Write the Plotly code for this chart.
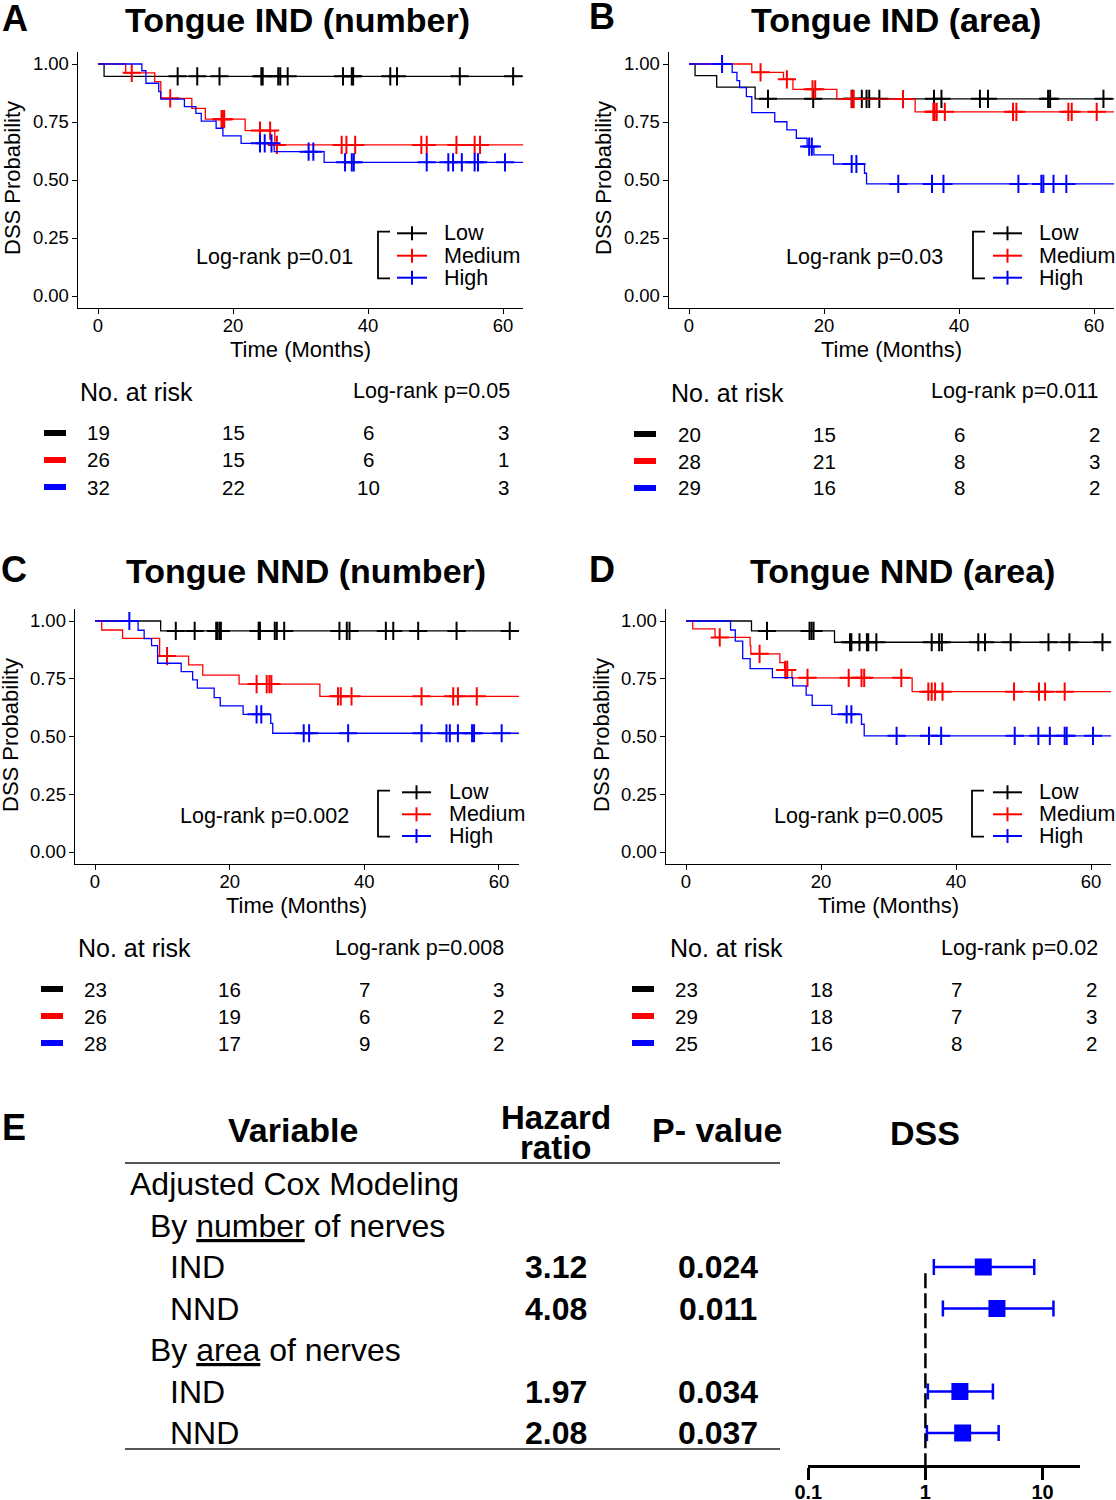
import plotly.graph_objects as go

# ======================= DATA =======================
groups = ["Low", "Medium", "High"]
risk_times = [0, 20, 40, 60]
FOLLOW_UP_END = 63.0

# ---- Panel A : Tongue IND (number)
A_low_t = [0.9]
A_low_s = [0.947]
A_low_c = [11.8, 14.7, 18.0, 24.2, 24.4, 26.7, 27.0, 28.1, 36.3, 37.6, 37.8, 43.3, 44.3, 53.6, 61.5]
A_med_t = [4.1, 8.4, 9.3, 13.9, 15.9, 21.8, 26.2]
A_med_s = [0.962, 0.924, 0.852, 0.809, 0.762, 0.713, 0.651]
A_med_c = [5.0, 10.7, 18.3, 18.5, 18.7, 24.0, 25.5, 26.5, 36.1, 36.8, 38.1, 47.9, 48.7, 53.1, 55.8, 56.6]
A_high_t = [6.5, 7.1, 9.0, 9.3, 12.8, 14.5, 15.3, 17.5, 18.5, 21.2, 26.1, 33.5]
A_high_s = [0.971, 0.917, 0.881, 0.849, 0.816, 0.787, 0.754, 0.723, 0.690, 0.658, 0.622, 0.576]
A_high_c = [24.0, 24.7, 25.7, 31.2, 31.9, 36.6, 37.6, 37.9, 48.7, 51.9, 52.6, 53.9, 55.8, 56.3, 60.3]
A_risk = {"Low": [19, 15, 6, 3], "Medium": [26, 15, 6, 1], "High": [32, 22, 10, 3]}
A_p_plot, A_p_table = "0.01", "0.05"

# ---- Panel B : Tongue IND (area)
B_low_t = [0.9, 4.1, 9.8]
B_low_s = [0.95, 0.90, 0.85]
B_low_c = [11.7, 18.4, 24.1, 24.3, 25.6, 26.3, 26.7, 28.2, 36.3, 37.4, 43.1, 44.3, 53.2, 53.5, 61.4]
B_med_t = [9.3, 14.0, 15.4, 21.9, 33.5]
B_med_s = [0.964, 0.934, 0.891, 0.849, 0.794]
B_med_c = [10.6, 14.5, 18.3, 18.7, 24.1, 24.4, 31.7, 36.2, 36.4, 36.7, 37.9, 48.0, 48.5, 56.2, 56.7, 60.4]
B_high_t = [6.4, 7.1, 7.5, 8.5, 9.3, 12.7, 14.5, 15.9, 17.5, 18.5, 21.4, 26.0, 26.3]
B_high_s = [0.964, 0.928, 0.898, 0.859, 0.790, 0.751, 0.716, 0.680, 0.644, 0.608, 0.569, 0.529, 0.483]
B_high_c = [4.9, 17.8, 18.2, 24.1, 24.8, 31.0, 36.0, 37.7, 48.8, 52.2, 52.5, 54.0, 55.9]
B_risk = {"Low": [20, 15, 6, 2], "Medium": [28, 21, 8, 3], "High": [29, 16, 8, 2]}
B_p_plot, B_p_table = "0.03", "0.011"

# ---- Panel C : Tongue NND (number)
C_low_t = [9.75]
C_low_s = [0.957]
C_low_c = [12.0, 14.8, 18.0, 18.2, 18.5, 18.7, 24.3, 24.5, 26.7, 27.0, 28.1, 36.3, 37.4, 37.8, 43.2, 44.3, 48.0, 53.7, 61.6]
C_med_t = [1.0, 4.1, 9.6, 13.9, 16.0, 21.4, 33.4]
C_med_s = [0.961, 0.925, 0.848, 0.810, 0.766, 0.727, 0.674]
C_med_c = [10.7, 24.0, 25.5, 25.9, 26.2, 36.1, 36.5, 38.1, 48.5, 53.2, 53.9, 56.7]
C_high_t = [6.4, 7.3, 8.4, 9.3, 12.8, 14.5, 15.2, 17.7, 18.6, 22.0, 26.1, 26.4]
C_high_s = [0.960, 0.924, 0.893, 0.817, 0.781, 0.745, 0.709, 0.668, 0.633, 0.596, 0.557, 0.514]
C_high_c = [5.1, 24.0, 24.7, 31.0, 31.8, 37.6, 48.5, 52.2, 52.7, 53.9, 56.0, 56.3, 60.4]
C_risk = {"Low": [23, 16, 7, 3], "Medium": [26, 19, 6, 2], "High": [28, 17, 9, 2]}
C_p_plot, C_p_table = "0.002", "0.008"

# ---- Panel D : Tongue NND (area)
D_low_t = [9.7, 22.0]
D_low_s = [0.957, 0.908]
D_low_c = [12.0, 18.3, 18.6, 18.9, 24.3, 24.5, 25.7, 26.8, 27.0, 28.2, 36.4, 37.5, 37.9, 43.3, 44.3, 48.1, 53.7, 56.8, 61.7]
D_med_t = [1.0, 4.3, 9.5, 9.6, 13.9, 14.6, 15.7, 33.5]
D_med_s = [0.966, 0.929, 0.893, 0.858, 0.820, 0.788, 0.754, 0.694]
D_med_c = [5.0, 10.9, 14.7, 15.0, 18.0, 24.1, 26.0, 26.4, 31.9, 35.9, 36.4, 36.9, 38.0, 48.6, 52.3, 53.2, 56.1]
D_high_t = [6.6, 7.3, 8.4, 9.5, 12.8, 15.8, 17.8, 18.7, 21.6, 26.0, 26.4]
D_high_s = [0.961, 0.913, 0.837, 0.794, 0.755, 0.719, 0.679, 0.635, 0.596, 0.553, 0.503]
D_high_c = [23.8, 24.5, 31.2, 36.0, 37.8, 48.7, 52.2, 53.9, 56.1, 56.4, 60.3]
D_risk = {"Low": [23, 18, 7, 2], "Medium": [29, 18, 7, 3], "High": [25, 16, 8, 2]}
D_p_plot, D_p_table = "0.005", "0.02"

# ---- Panel E : adjusted Cox model table / forest plot
table_labels = ["Adjusted Cox Modeling", "By <u>number</u> of nerves", "IND", "NND",
                "By <u>area</u> of nerves", "IND", "NND"]
table_level = [0, 1, 2, 2, 1, 2, 2]
estimate_rows = [2, 3, 5, 6]
hazard_ratio = [3.12, 4.08, 1.97, 2.08]
p_values = ["0.024", "0.011", "0.034", "0.037"]
ci_low = [1.18, 1.41, 1.05, 1.03]
ci_high = [8.5, 12.4, 3.77, 4.22]
forest_ticks = [0.1, 1, 10]

# ======================= STYLE / LAYOUT =======================
W, H = 1116, 1500
def X(px): return px / W
def Y(py): return 1 - py / H

FONT = "Liberation Sans, Arial, sans-serif"
COL = {"Low": "#000000", "Medium": "#FF0000", "High": "#0000FF"}

km = {
    "A": {"Low": (A_low_t, A_low_s, A_low_c), "Medium": (A_med_t, A_med_s, A_med_c), "High": (A_high_t, A_high_s, A_high_c)},
    "B": {"Low": (B_low_t, B_low_s, B_low_c), "Medium": (B_med_t, B_med_s, B_med_c), "High": (B_high_t, B_high_s, B_high_c)},
    "C": {"Low": (C_low_t, C_low_s, C_low_c), "Medium": (C_med_t, C_med_s, C_med_c), "High": (C_high_t, C_high_s, C_high_c)},
    "D": {"Low": (D_low_t, D_low_s, D_low_c), "Medium": (D_med_t, D_med_s, D_med_c), "High": (D_high_t, D_high_s, D_high_c)},
}
risk = {"A": A_risk, "B": B_risk, "C": C_risk, "D": D_risk}
pvals = {"A": (A_p_plot, A_p_table), "B": (B_p_plot, B_p_table),
         "C": (C_p_plot, C_p_table), "D": (D_p_plot, D_p_table)}

panels = [
    dict(key="A", title="Tongue IND (number)", x0=98, ppm=6.75, ytop=64, ybot=296,
         letter=(15, 18), tpos=(297, 20), ytit=(12, 178), lr=(274, 257),
         br=378, rows=[233.3, 255.7, 277.7], seg=(397, 427), txt=442,
         nar=(78, 392), rlr=(512, 391), rrows=[433, 460, 487], bar=44),
    dict(key="B", title="Tongue IND (area)", x0=689, ppm=6.75, ytop=64, ybot=296,
         letter=(602, 17), tpos=(896, 20), ytit=(603, 178), lr=(864, 257),
         br=973, rows=[233.3, 255.7, 277.7], seg=(993, 1022), txt=1037,
         nar=(669, 393), rlr=(1101, 391), rrows=[434, 461, 488], bar=634),
    dict(key="C", title="Tongue NND (number)", x0=95, ppm=6.733, ytop=621, ybot=852,
         letter=(14, 569), tpos=(306, 571), ytit=(10, 735), lr=(264, 816),
         br=378, rows=[792.3, 814.3, 836], seg=(402, 431), txt=447,
         nar=(76, 948), rlr=(506, 948), rrows=[989, 1016, 1043], bar=41),
    dict(key="D", title="Tongue NND (area)", x0=686, ppm=6.75, ytop=621, ybot=852,
         letter=(602, 569), tpos=(903, 571), ytit=(601, 735), lr=(858, 816),
         br=972, rows=[792.3, 814.3, 836], seg=(993, 1022), txt=1037,
         nar=(668, 948), rlr=(1100, 948), rrows=[989, 1016, 1043], bar=632),
]

XR = [-3, 63]
YR = [-0.05, 1.05]

fig = go.Figure()
annotations = []
shapes = []
layout_axes = {}


def ann(text, x, y, size, xanchor="center", yanchor="middle", xref="paper", yref="paper",
        family=FONT, angle=0, color="black"):
    annotations.append(dict(text=text, x=x, y=y, xref=xref, yref=yref, showarrow=False,
                            xanchor=xanchor, yanchor=yanchor, textangle=angle,
                            font=dict(size=size, family=family, color=color)))


def surv_at(t, s, c):
    v = 1.0
    for ti, si in zip(t, s):
        if ti <= c:
            v = si
    return v


for i, p in enumerate(panels):
    n = i + 1
    xa = "x" if n == 1 else f"x{n}"
    ya = "y" if n == 1 else f"y{n}"
    xk = "xaxis" if n == 1 else f"xaxis{n}"
    yk = "yaxis" if n == 1 else f"yaxis{n}"
    ppu = p["ybot"] - p["ytop"]
    xdom = [X(p["x0"] + XR[0] * p["ppm"]), X(p["x0"] + XR[1] * p["ppm"])]
    ydom = [Y(p["ybot"] + 0.05 * ppu), Y(p["ytop"] - 0.05 * ppu)]

    for g in groups:
        t, s, c = km[p["key"]][g]
        xs = [0] + t + [FOLLOW_UP_END]
        ys = [1.0] + s + [s[-1]]
        fig.add_trace(go.Scatter(x=xs, y=ys, mode="lines", xaxis=xa, yaxis=ya,
                                 line=dict(color=COL[g], width=1.3, shape="hv"),
                                 showlegend=False, hoverinfo="skip", name=g))
        fig.add_trace(go.Scatter(x=c, y=[surv_at(t, s, ci) for ci in c], mode="markers",
                                 xaxis=xa, yaxis=ya, showlegend=False, hoverinfo="skip", name=g,
                                 marker=dict(symbol="cross-thin", size=13,
                                             line=dict(width=2, color=COL[g]))))

    axis_common = dict(ticks="outside", ticklen=5, tickwidth=1.3, tickcolor="black",
                       showline=True, linecolor="black", linewidth=1.3, showgrid=False,
                       zeroline=False, tickfont=dict(size=18.5, family=FONT, color="black"),
                       fixedrange=True, automargin=False)
    layout_axes[xk] = dict(domain=xdom, range=XR, tickvals=risk_times, anchor=ya,
                           ticklabelstandoff=-4, **axis_common)
    layout_axes[yk] = dict(domain=ydom, range=YR, tickvals=[0, 0.25, 0.5, 0.75, 1.0],
                           tickformat=".2f", anchor=xa, ticklabelstandoff=-1, **axis_common)

    # titles
    ann("<b>" + p["key"] + "</b>", X(p["letter"][0]), Y(p["letter"][1]), 36)
    ann("<b>" + p["title"] + "</b>", X(p["tpos"][0]), Y(p["tpos"][1]), 34)
    ann("Time (Months)", 30, Y(p["ybot"] + 0.05 * ppu + 42), 22, xref=xa)
    ann("DSS Probability", X(p["ytit"][0]), Y(p["ytit"][1]), 22, angle=-90)
    # log-rank in plot
    ann("Log-rank p=" + pvals[p["key"]][0], X(p["lr"][0]), Y(p["lr"][1]), 21.5)

    # manual legend with bracket
    top, bot = p["rows"][0] - 1.6, p["rows"][2] + 0.6
    shapes.append(dict(type="path", xref="paper", yref="paper",
                       path=f"M {X(p['br'] + 12)},{Y(top)} L {X(p['br'])},{Y(top)} "
                            f"L {X(p['br'])},{Y(bot)} L {X(p['br'] + 12)},{Y(bot)}",
                       line=dict(color="black", width=1.8)))
    for g, ry in zip(groups, p["rows"]):
        s0, s1 = p["seg"]
        mid = (s0 + s1) / 2
        shapes.append(dict(type="line", xref="paper", yref="paper", x0=X(s0), x1=X(s1),
                           y0=Y(ry), y1=Y(ry), line=dict(color=COL[g], width=2)))
        shapes.append(dict(type="line", xref="paper", yref="paper", x0=X(mid), x1=X(mid),
                           y0=Y(ry - 7), y1=Y(ry + 7), line=dict(color=COL[g], width=2)))
        ann(g, X(p["txt"]), Y(ry), 21.5, xanchor="left")

    # risk table
    ann("No. at risk", X(p["nar"][0]), Y(p["nar"][1]), 25, xanchor="left")
    ann("Log-rank p=" + pvals[p["key"]][1], X(p["rlr"][0]), Y(p["rlr"][1]), 21.5, xanchor="right")
    for g, ry in zip(groups, p["rrows"]):
        shapes.append(dict(type="rect", xref="paper", yref="paper", x0=X(p["bar"]),
                           x1=X(p["bar"] + 22), y0=Y(ry + 3), y1=Y(ry - 3),
                           fillcolor=COL[g], line=dict(width=0)))
        for tt, nn in zip(risk_times, risk[p["key"]][g]):
            ann(str(nn), tt, Y(ry), 20.5, xref=xa)

# ======================= PANEL E =======================
ROW0_PY, ROW_STEP = 1184, 41.5
AXIS_PY, TOP_ROW = 1465, -1
bottom_row = (AXIS_PY - ROW0_PY) / ROW_STEP
ydom5 = [Y(AXIS_PY), Y(ROW0_PY + TOP_ROW * ROW_STEP)]
xdom5 = [X(808.3), X(1080)]

fig.add_trace(go.Scatter(
    x=hazard_ratio, y=estimate_rows, mode="markers", xaxis="x5", yaxis="y5",
    showlegend=False, hoverinfo="skip",
    marker=dict(symbol="square", size=17, color="#0000FF"),
    error_x=dict(type="data", symmetric=False,
                 array=[h - m for h, m in zip(ci_high, hazard_ratio)],
                 arrayminus=[m - l for m, l in zip(hazard_ratio, ci_low)],
                 color="#0000FF", thickness=2.5, width=8)))

layout_axes["xaxis5"] = dict(domain=xdom5, type="log", range=[-1, 1.32], tickvals=forest_ticks,
                             ticktext=[f"<b>{v:g}</b>" for v in forest_ticks],
                             ticks="outside", ticklen=12, tickwidth=2.5, tickcolor="black",
                             showline=True, linecolor="black", linewidth=2.5, showgrid=False,
                             zeroline=False, anchor="y5", fixedrange=True, automargin=False,
                             ticklabelstandoff=-5,
                             tickfont=dict(size=20, family=FONT, color="black"))
layout_axes["yaxis5"] = dict(domain=ydom5, range=[bottom_row, TOP_ROW], visible=False,
                             anchor="x5", fixedrange=True, automargin=False)

shapes.append(dict(type="line", xref="x5", yref="y5", x0=1, x1=1, y0=2.15, y1=bottom_row,
                   line=dict(color="black", width=2.5, dash="15px,5px")))

# table
ann("<b>E</b>", X(14), Y(1127), 36)
ann("<b>Variable</b>", X(293), Y(1130), 34)
ann("<b>Hazard</b>", X(556), Y(1117), 33)
ann("<b>ratio</b>", X(556), Y(1147), 33)
ann("<b>P- value</b>", X(717), Y(1130), 34)
ann("<b>DSS</b>", X(925), Y(1133), 34)
for py in (1163, 1449):
    shapes.append(dict(type="line", xref="paper", yref="paper", x0=X(125), x1=X(780),
                       y0=Y(py), y1=Y(py), line=dict(color="#555555", width=2)))
indent_px = [128, 148, 168]
for r, (lab, lev) in enumerate(zip(table_labels, table_level)):
    ann(lab, X(indent_px[lev]), r, 32, xanchor="left", yref="y5")
for r, hrv, pv in zip(estimate_rows, hazard_ratio, p_values):
    ann(f"<b>{hrv:.2f}</b>", X(556), r, 32, yref="y5")
    ann(f"<b>{pv}</b>", X(718), r, 32, yref="y5")

fig.update_layout(width=W, height=H, margin=dict(l=0, r=0, t=0, b=0, autoexpand=False),
                  template="none",
                  paper_bgcolor="white", plot_bgcolor="white", showlegend=False,
                  annotations=annotations, shapes=shapes, **layout_axes)
fig.write_html("out.html", config={"displayModeBar": False},
               post_script="document.body.style.margin='0px';")
